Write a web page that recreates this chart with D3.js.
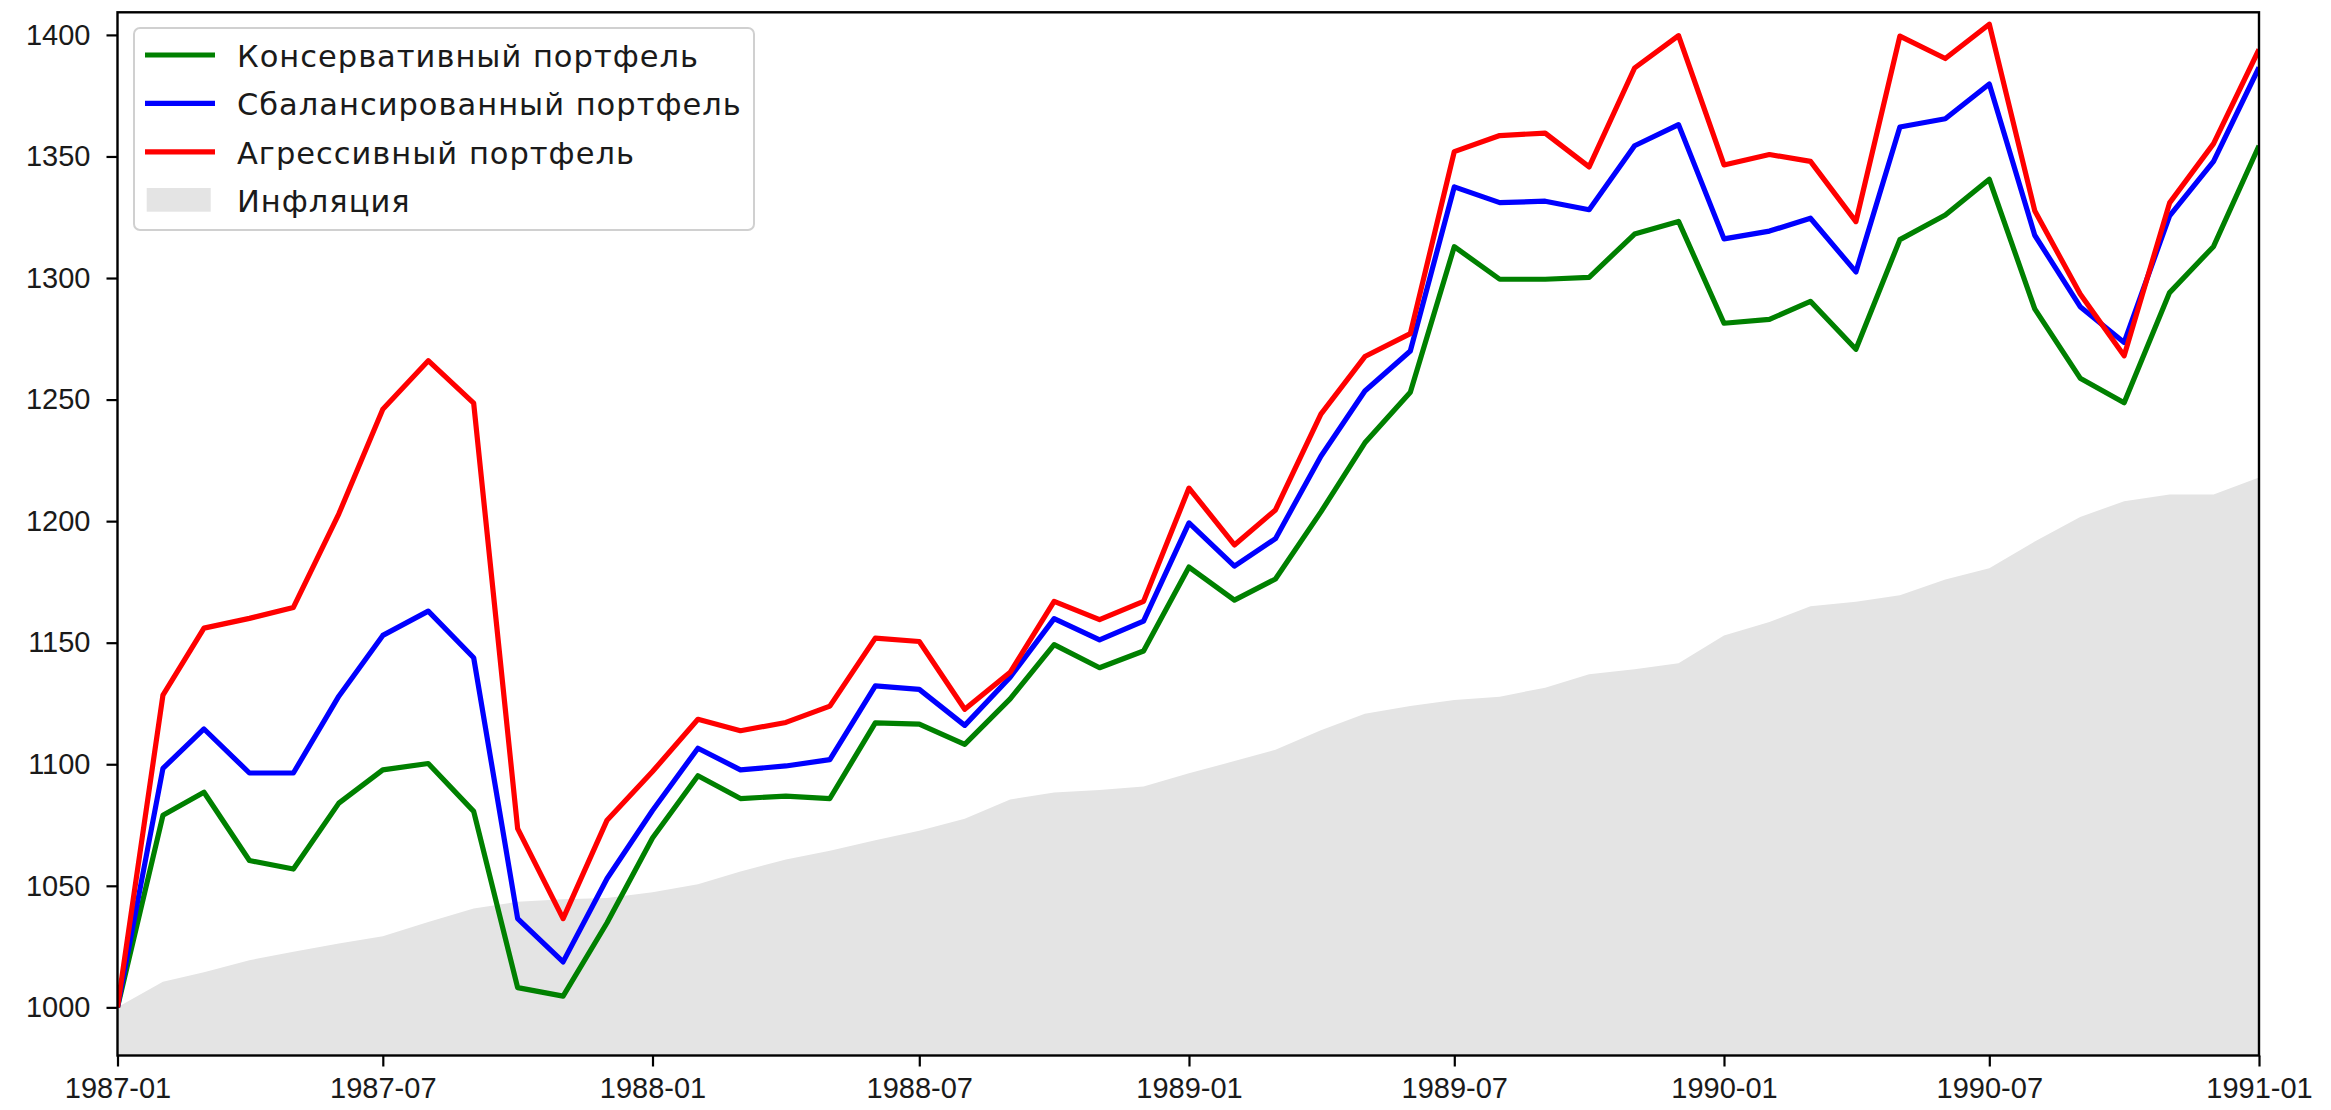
<!DOCTYPE html>
<html>
<head>
<meta charset="utf-8">
<script src="https://cdn.jsdelivr.net/npm/d3@7"></script>
<style>
  body { margin: 0; background: #fff; }
  svg { display: block; font-family: "DejaVu Sans", sans-serif; }
</style>
</head>
<body>
<div id="chart"></div>
<script>
// monthly points, 1987-01 .. 1991-01
const months = d3.timeMonth.range(new Date(1987, 0, 1), new Date(1991, 0, 2));

const conservative = [
  1000, 1079, 1088.5, 1060.4, 1056.9, 1084, 1097.7, 1100.3, 1080.6, 1008.1, 1004.6, 1034.8,
  1069.7, 1095.3, 1085.9, 1086.9, 1085.9, 1117, 1116.5, 1108.2, 1126.9, 1149.2, 1139.7, 1146.6,
  1181.1, 1167.5, 1176.2, 1203.8, 1232.2, 1253, 1312.9, 1299.5, 1299.5, 1300.3, 1318.1, 1323.3,
  1281.4, 1283, 1290.4, 1270.7, 1315.8, 1325.9, 1340.6, 1287.3, 1258.8, 1248.7, 1294, 1313,
  1354.4,
];
const balanced = [
  1000, 1098.3, 1114.5, 1096.4, 1096.4, 1128, 1153, 1163, 1143.8, 1036.5, 1018.7, 1053,
  1081, 1106.6, 1097.7, 1099.3, 1101.9, 1132.2, 1130.8, 1116, 1135.8, 1159.9, 1151.2, 1158.9,
  1199.3, 1181.5, 1192.8, 1226.7, 1253.5, 1270, 1337.5, 1331, 1331.6, 1328.1, 1354.4, 1363.1,
  1316.1, 1319.3, 1324.6, 1302.5, 1362.1, 1365.5, 1379.8, 1317.6, 1288.2, 1273.5, 1325.6, 1348,
  1386.6,
];
const aggressive = [
  1000, 1128.4, 1156, 1160, 1164.5, 1203, 1246, 1266, 1248.5, 1073.5, 1036.5, 1077,
  1097, 1118.5, 1113.8, 1117.2, 1123.9, 1151.9, 1150.5, 1122.6, 1137.8, 1167, 1159.5, 1167,
  1213.6, 1190.2, 1204.6, 1244, 1267.7, 1277.1, 1352, 1358.6, 1359.6, 1345.7, 1386.4, 1399.7,
  1346.5, 1350.8, 1348, 1323.2, 1399.5, 1390.3, 1404.4, 1327.7, 1293.4, 1268, 1330.9, 1355.3,
  1394,
];
const inflation = [
  1000, 1010.5, 1014.4, 1019.4, 1022.9, 1026.3, 1029.2, 1035.1, 1040.7, 1043.4, 1044.5, 1045,
  1047.4, 1050.6, 1055.9, 1060.8, 1064.4, 1068.7, 1072.6, 1077.6, 1085.5, 1088.4, 1089.4, 1090.8,
  1096.3, 1101.3, 1106, 1114, 1120.8, 1124, 1126.4, 1127.8, 1131.5, 1137, 1139.1, 1141.5,
  1153, 1158.5, 1165, 1166.8, 1169.5, 1176, 1180.6, 1191.6, 1201.7, 1208.2, 1211, 1211,
  1218,
];

const seriesNames = ["Консервативный портфель", "Сбалансированный портфель", "Агрессивный портфель"];
const seriesColors = ["green", "blue", "red"];
const inflationName = "Инфляция";
const xTickLabels = ["1987-01", "1987-07", "1988-01", "1988-07", "1989-01", "1989-07", "1990-01", "1990-07", "1991-01"];
const yTicks = [1000, 1050, 1100, 1150, 1200, 1250, 1300, 1350, 1400];

const width = 2331;
const height = 1110;
const margin = { top: 12.3, right: 72, left: 117.5, bottom: 54.5 };
const innerWidth = width - margin.left - margin.right;
const innerHeight = height - margin.top - margin.bottom;

const svg = d3.select("#chart").append("svg")
  .attr("width", width).attr("height", height);

const wrapper = svg.append("g")
  .attr("transform", `translate(${margin.left}, ${margin.top})`);

const parseMonth = d3.timeParse("%Y-%m");
const x = d3.scaleTime()
  .domain([parseMonth(xTickLabels[0]), parseMonth(xTickLabels[xTickLabels.length - 1])])
  .range([0, innerWidth]);
const y = d3.scaleLinear().domain([980.2, 1409.3]).range([innerHeight, 0]);

wrapper.append("clipPath").attr("id", "plot-clip")
  .append("rect").attr("width", innerWidth).attr("height", innerHeight);

// inflation area
const area = d3.area()
  .x((d, i) => x(months[i]))
  .y0(innerHeight)
  .y1((d) => y(d));
wrapper.append("path")
  .datum(inflation)
  .attr("clip-path", "url(#plot-clip)")
  .attr("fill", "#e4e4e4")
  .attr("d", area);

// portfolio lines
const line = d3.line().x((d, i) => x(months[i])).y((d) => y(d));
const series = [conservative, balanced, aggressive];
wrapper.append("g")
  .selectAll("path")
  .data(series)
  .join("path")
  .attr("clip-path", "url(#plot-clip)")
  .attr("fill", "none")
  .attr("stroke", (d, i) => seriesColors[i])
  .attr("stroke-width", 5.2)
  .attr("stroke-linejoin", "round")
  .attr("d", line);

// axes
const xAxis = (g) => g
  .attr("transform", `translate(0, ${innerHeight})`)
  .call(d3.axisBottom(x)
    .tickValues(xTickLabels.map(parseMonth))
    .tickFormat(d3.timeFormat("%Y-%m"))
    .tickSize(11).tickPadding(11))
  .call((g) => g.select(".domain").remove());
const yAxis = (g) => g
  .call(d3.axisLeft(y).tickValues(yTicks).tickFormat(d3.format("d")).tickSize(11).tickPadding(16))
  .call((g) => g.select(".domain").remove());

wrapper.append("g").call(xAxis);
wrapper.append("g").call(yAxis);

wrapper.selectAll(".tick line").attr("stroke", "#000").attr("stroke-width", 2.2);
wrapper.selectAll(".tick text").attr("fill", "#1a1a1a").style("font-size", "29px");

// frame
wrapper.append("rect")
  .attr("width", innerWidth).attr("height", innerHeight)
  .attr("fill", "none").attr("stroke", "#000").attr("stroke-width", 2.4);

// legend
const legend = svg.append("g").attr("transform", "translate(134, 28)");
legend.append("rect")
  .attr("width", 620).attr("height", 202)
  .attr("rx", 6).attr("fill", "#fff").attr("fill-opacity", 0.8)
  .attr("stroke", "#d0d0d0").attr("stroke-width", 2);

const rowGap = 48.4;
const legendText = (g) => g
  .attr("fill", "#1a1a1a")
  .style("font-size", "30.5px")
  .style("letter-spacing", "1px");

seriesNames.forEach((name, i) => {
  const cy = 27 + rowGap * i;
  legend.append("line")
    .attr("x1", 11).attr("x2", 81).attr("y1", cy).attr("y2", cy)
    .attr("stroke", seriesColors[i]).attr("stroke-width", 5.2);
  legend.append("text")
    .attr("x", 103).attr("y", 38.7 + rowGap * i)
    .call(legendText)
    .text(name);
});
legend.append("rect")
  .attr("x", 12.7).attr("y", 160).attr("width", 64).attr("height", 23.7)
  .attr("fill", "#e4e4e4");
legend.append("text")
  .attr("x", 103).attr("y", 38.7 + rowGap * 3)
  .call(legendText)
  .text(inflationName);
</script>
</body>
</html>
